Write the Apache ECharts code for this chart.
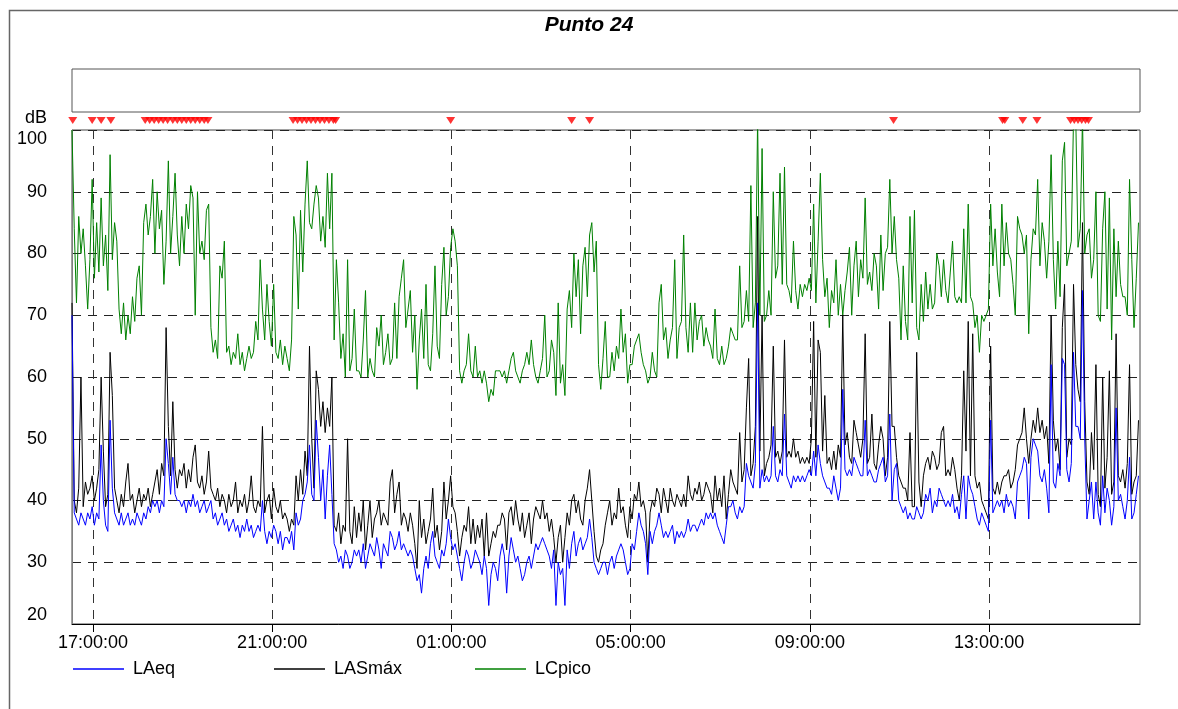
<!DOCTYPE html>
<html><head><meta charset="utf-8">
<script src="https://cdn.jsdelivr.net/npm/echarts@6/dist/echarts.min.js"></script>
<style>html,body{margin:0;padding:0;background:#fff}#c{width:1178px;height:709px}</style>
</head><body><div id="c"></div>
<script>
const chartTitle = 'Punto 24';
const seriesNames = ['LAeq', 'LASmáx', 'LCpico'];
const seriesColors = ['#0000ff', '#000000', '#008000'];
const axisStart = '16:32';
const axisEnd = '16:22';
const stepMinutes = 3;
const xTickLabels = ['17:00:00', '21:00:00', '01:00:00', '05:00:00', '09:00:00', '13:00:00'];
const yMin = 20, yMax = 100, yStep = 10;
const yName = 'dB';
const eventTimes = ['16:33','16:59','17:11','17:24','18:10','18:16','18:22','18:28','18:34','18:40','18:47','18:53','18:59','19:05','19:11','19:17','19:23','19:29','19:34','21:28','21:34','21:40','21:46','21:52','21:58','22:04','22:10','22:16','22:22','22:25','00:59','03:41','04:05','10:52','13:18','13:21','13:45','14:04','14:49','14:54','14:59','15:04','15:09','15:13'];

const LCpico = [100,84,72,86,80,84,78,71,79,92,76,85,77,89,78,83,74,96,79,85,82,71,67,72,66,70,67,73,69,76,78,70,85,88,83,86,92,80,90,84,87,75,82,95,80,86,93,83,
78,86,80,88,84,91,89,70,90,80,82,79,87,88,68,64,66,63,78,76,82,64,65,62,64,63,67,62,64,61,63,65,63,64,69,66,79,71,66,75,69,65,75,64,63,66,62,65,
63,61,66,86,83,71,87,77,88,95,85,84,88,91,89,82,86,81,93,84,93,66,79,72,63,67,60,79,61,63,71,61,61,60,66,74,60,63,61,60,68,65,70,62,64,67,62,
63,72,63,73,76,79,68,71,74,64,70,58,66,71,63,75,62,61,67,78,65,63,75,81,70,73,81,84,82,78,61,59,61,62,67,61,60,65,60,61,59,61,59,56,58,57,61,61,
61,60,61,59,61,63,64,61,60,59,61,62,64,62,66,62,60,59,61,63,70,60,61,66,64,57,72,59,62,57,71,74,68,80,73,79,67,78,81,73,83,85,77,82,62,58,63,
69,60,60,64,61,65,63,71,64,67,59,62,62,65,66,67,64,62,61,59,60,64,61,60,72,75,66,68,63,66,68,79,63,68,69,83,68,64,72,64,72,66,69,70,65,68,66,
65,63,71,63,62,65,62,63,65,68,67,66,66,78,68,69,74,69,91,68,72,102,70,97,69,70,74,70,90,76,78,93,75,94,75,74,72,82,74,71,75,73,75,74,76,74,88,
72,82,93,79,73,76,68,74,72,79,70,75,70,74,77,81,70,78,82,73,79,76,89,75,77,74,80,78,71,83,74,80,81,92,80,86,79,76,66,78,69,66,86,72,87,68,66,75,
69,77,71,75,71,72,80,78,73,79,74,72,77,82,73,72,73,72,84,72,88,73,72,68,70,64,70,69,70,71,88,78,84,77,73,88,78,85,80,79,75,70,86,84,83,80,83,
67,79,84,83,92,78,85,82,76,82,96,79,71,82,73,95,98,78,80,82,102,102,81,84,102,80,83,84,76,79,90,70,69,84,90,71,89,66,84,73,82,75,73,73,70,92,79,68,76,85];

const LASmax = [72,40,38,42,60,39,43,41,42,44,40,42,45,60,48,39,41,64,57,42,40,38,41,39,43,46,40,41,38,40,42,39,41,40,42,39,41,43,45,41,46,44,68,52,44,56,45,42,
45,44,46,42,45,43,47,49,43,42,44,41,43,48,42,41,40,42,39,41,40,38,41,39,40,43,38,40,39,41,38,40,44,39,38,40,39,52,38,40,41,37,42,39,38,40,37,38,
37,35,37,36,44,40,45,41,48,44,65,50,42,61,58,52,56,51,55,52,60,36,35,38,33,36,35,50,35,33,39,34,38,35,40,32,36,40,34,37,38,40,36,38,37,36,43,
45,38,41,43,36,38,37,35,38,36,33,29,40,34,37,33,35,37,42,34,36,32,35,43,37,40,44,39,38,35,31,34,36,35,39,33,37,33,36,34,37,31,38,31,33,35,34,36,
36,38,37,32,38,39,36,40,37,35,38,34,36,38,33,37,39,38,37,40,37,38,35,37,34,30,34,36,30,34,38,36,40,41,38,40,37,36,40,42,45,40,35,31,30,32,33,
36,38,40,36,38,37,42,38,39,36,34,39,37,41,40,43,39,40,38,30,38,40,39,42,41,38,42,40,38,42,40,39,41,40,39,41,39,44,41,40,42,41,43,40,41,43,42,
41,38,44,40,42,39,44,37,41,45,43,42,41,51,43,45,55,63,44,46,52,86,48,70,44,46,47,49,65,47,48,46,48,66,47,48,47,50,47,48,46,47,46,47,46,50,69,
47,66,64,48,57,46,47,45,48,45,49,47,70,49,51,47,46,53,51,49,47,50,67,46,47,54,46,45,49,52,50,44,47,69,52,52,47,44,43,42,42,40,51,39,39,64,43,39,
44,46,47,45,48,47,45,46,51,52,44,45,44,47,45,42,40,44,61,48,69,44,67,44,42,43,40,39,38,37,65,42,41,43,41,43,44,44,45,42,43,45,49,50,51,55,50,
46,50,53,51,55,51,53,50,52,46,70,53,48,50,45,68,75,47,50,49,75,62,58,56,85,56,43,41,51,45,62,41,39,60,42,47,61,41,43,67,44,43,45,42,46,62,41,43,44,53];

const LAeq = [70,38,37,36,38,37,36,38,37,39,36,38,37,49,40,36,35,53,42,38,37,36,38,36,37,38,36,37,36,38,37,36,38,37,39,38,40,39,40,38,40,39,50,46,41,47,41,40,
40,39,40,38,40,39,41,39,40,38,39,40,38,39,40,37,38,36,37,38,36,37,35,36,37,35,36,34,36,35,37,35,36,34,35,36,35,40,35,33,35,34,36,35,33,35,32,34,
34,33,35,32,38,36,37,40,41,43,49,41,40,53,47,40,45,37,44,49,41,33,32,30,31,29,32,31,29,30,32,31,32,30,33,29,31,33,32,31,34,32,29,33,32,31,35,
34,32,33,35,32,33,32,31,32,31,29,27,28,25,29,31,29,33,35,31,30,29,32,31,33,37,34,32,33,31,29,27,30,32,31,29,30,32,31,30,28,31,29,23,28,30,29,27,
31,33,31,25,31,34,32,30,31,29,27,28,30,31,29,31,33,32,33,34,33,32,31,29,32,23,30,28,29,23,32,29,33,35,31,33,34,32,33,34,37,34,30,29,28,29,30,
30,28,30,31,29,31,32,33,32,30,28,29,33,32,35,38,36,35,33,28,35,33,35,36,38,36,34,35,34,35,36,33,35,34,35,34,35,37,35,36,36,35,36,37,36,38,37,
38,37,38,36,35,34,33,36,39,39,40,38,37,39,38,39,46,44,43,42,46,72,42,45,43,44,43,44,52,44,43,45,44,54,44,43,42,44,43,44,43,44,43,44,45,44,48,
44,49,46,44,43,42,42,41,44,42,40,42,58,45,44,45,44,47,46,45,44,44,53,44,45,44,43,43,45,46,47,43,44,54,40,45,46,40,39,38,39,37,38,37,37,39,38,37,
38,41,40,42,38,40,39,42,41,40,39,40,39,41,38,39,37,41,44,37,44,42,41,39,37,36,38,37,36,35,53,38,39,40,39,40,38,41,39,40,39,37,43,44,45,47,46,
37,47,50,49,48,44,43,45,42,38,62,43,42,46,44,63,62,45,43,46,64,52,52,50,74,50,37,40,43,37,43,38,36,44,38,42,40,36,39,55,40,41,39,37,40,47,37,38,41,44];

const FONT = '"Liberation Sans", Arial, sans-serif';
function toMin(s) {
  const p = s.split(':').map(Number);
  return p[0] * 60 + p[1];
}
const startMinute = toMin(axisStart);
function onAxis(s) { let v = toMin(s); if (v < startMinute) v += 1440; return v; }
const xMin = startMinute;
const xMax = onAxis(axisEnd) <= startMinute ? onAxis(axisEnd) + 1440 : onAxis(axisEnd);
const xTickValues = xTickLabels.map(onAxis);
function fmt(v) {
  const m = ((Math.round(v) % 1440) + 1440) % 1440;
  const h = Math.floor(m / 60), mm = m % 60;
  return String(h).padStart(2, '0') + ':' + String(mm).padStart(2, '0') + ':00';
}
const toPairs = arr => arr.map((v, i) => [startMinute + i * stepMinutes, v]);
const seriesData = [LAeq, LASmax, LCpico];

const chart = echarts.init(document.getElementById('c'), null, { renderer: 'canvas' });
const lineSeries = [2, 1, 0].map(k => ({
  name: seriesNames[k], type: 'line', xAxisIndex: 0, yAxisIndex: 0,
  data: toPairs(seriesData[k]), symbol: 'none', showSymbol: false,
  sampling: null, animation: false, clip: true,
  lineStyle: { color: seriesColors[k], width: 1 }, itemStyle: { color: seriesColors[k] },
  z: 3 + (2 - k)
}));

const legendSlots = [73, 274, 475];
const legends = seriesNames.map((n, k) => ({
  data: [{ name: n, icon: 'rect', itemStyle: { color: seriesColors[k] } }],
  left: legendSlots[k], top: 660, padding: 0, orient: 'horizontal',
  itemWidth: 51, itemHeight: 1.5, itemGap: 0, selectedMode: false,
  textStyle: { fontFamily: FONT, fontSize: 18, color: '#000', padding: [0, 0, 0, 4] }
}));

chart.setOption({
  animation: false,
  backgroundColor: '#fff',
  title: {
    text: chartTitle, left: 'center', top: 10,
    textStyle: { fontFamily: FONT, fontSize: 21, fontWeight: 'bold', fontStyle: 'italic', color: '#000' }
  },
  graphic: [{
    type: 'rect', left: 7, top: 8, silent: true, z: -1,
    shape: { width: 1250, height: 800 },
    style: { fill: 'none', stroke: '#666', lineWidth: 1.5 }
  }],
  legend: legends,
  grid: [
    { left: 72, right: 38, top: 130, bottom: 85, show: true, borderColor: '#444', borderWidth: 1, backgroundColor: 'transparent' },
    { left: 72, right: 38, top: 69, height: 43, show: true, borderColor: '#555', borderWidth: 1, backgroundColor: 'transparent' },
    { left: 72, right: 38, top: 115, height: 11, show: false }
  ],
  xAxis: [{
    type: 'value', gridIndex: 0, min: xMin, max: xMax,
    axisLine: { show: true, onZero: false, lineStyle: { color: '#000', width: 1 } },
    axisTick: { show: true, length: 8, customValues: xTickValues, lineStyle: { color: '#000' } },
    axisLabel: { customValues: xTickValues, formatter: fmt, fontFamily: FONT, fontSize: 18, color: '#000', margin: 10 },
    splitLine: { show: true, lineStyle: { color: '#333', type: [9, 7], width: 1 } }
  }, {
    type: 'value', gridIndex: 1, min: xMin, max: xMax, show: false
  }, {
    type: 'value', gridIndex: 2, min: xMin, max: xMax, show: false
  }],
  yAxis: [{
    type: 'value', gridIndex: 0, min: yMin, max: yMax, interval: yStep,
    name: yName, nameLocation: 'end', nameGap: 3,
    nameTextStyle: { fontFamily: FONT, fontSize: 18, color: '#000', align: 'right', verticalAlign: 'bottom', padding: [0, 25, 0, 0] },
    axisLine: { show: true, lineStyle: { color: '#808080' } },
    axisTick: { show: false },
    axisLabel: { fontFamily: FONT, fontSize: 18, color: '#000', margin: 25, verticalAlignMinLabel: 'bottom', verticalAlignMaxLabel: 'top' },
    splitLine: { show: true, lineStyle: { color: '#222', type: [9, 7], width: 1 } }
  }, {
    type: 'value', gridIndex: 1, min: 0, max: 1, show: false
  }, {
    type: 'value', gridIndex: 2, min: -1, max: 1, show: false
  }],
  series: lineSeries.concat([{
    name: 'eventos', type: 'scatter', xAxisIndex: 2, yAxisIndex: 2,
    data: eventTimes.map(t => [onAxis(t), 0]),
    symbol: 'triangle', symbolRotate: 180, symbolSize: [9, 7],
    itemStyle: { color: '#ff0000' }, silent: true, animation: false, clip: false
  }])
});
</script></body></html>
